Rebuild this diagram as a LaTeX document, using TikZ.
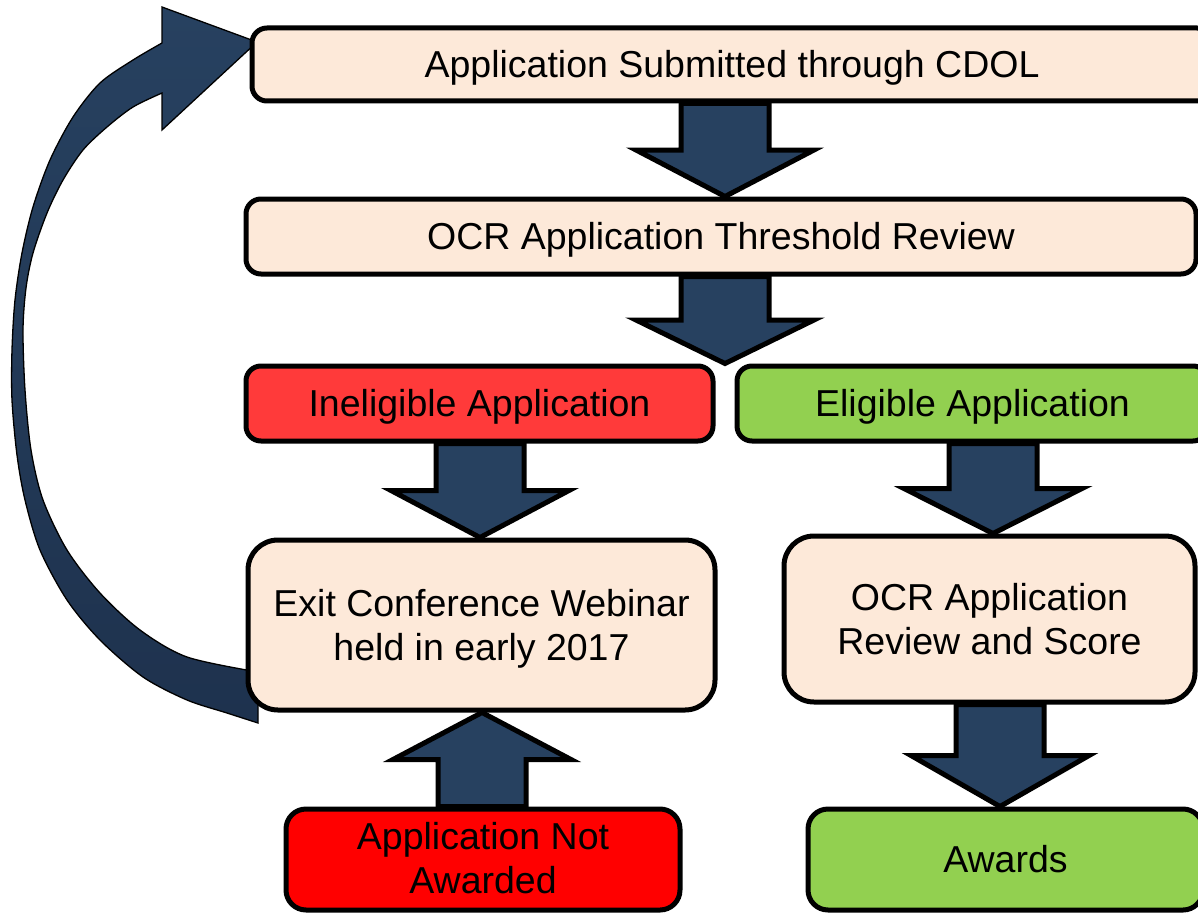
\documentclass[tikz,border=0pt]{standalone}
\usepackage{fontspec}
\setmainfont{Liberation Sans}
\usetikzlibrary{calc, backgrounds}

\definecolor{peach}{RGB}{253,233,217}
\definecolor{softred}{RGB}{255,58,58}
\definecolor{fullred}{RGB}{255,0,0}
\definecolor{leafgreen}{RGB}{146,208,80}
\definecolor{navy}{RGB}{39,65,96}
\definecolor{darknavy}{RGB}{30,50,78}

\tikzset{
  stage/.style={draw=black, line width=5pt, fill=peach, rounded corners=15pt,
                inner sep=0pt, align=center, text height=26pt, text depth=0pt,
                font=\fontsize{37.5}{44}\selectfont},
  tallstage/.style={stage, rounded corners=30pt, text height=70pt},
  blockarrow/.style={draw=black, line width=5pt, fill=navy, line join=miter},
}

% block arrow: #1 = x position, #2 = start anchor, #3 = end anchor
\newcommand{\blockarrow}[3]{%
  \draw[blockarrow] let \p1=(#2), \p2=(#3), \p3=($(#2)!0.5!(#3)$) in
    ({#1pt-44pt},\y1) -- ({#1pt-44pt},\y3) -- ({#1pt-89pt},\y3) -- (#1pt,\y2)
    -- ({#1pt+89pt},\y3) -- ({#1pt+44pt},\y3) -- ({#1pt+44pt},\y1) -- cycle;}

\begin{document}
\begin{tikzpicture}[x=1pt, y=-1pt]
  \useasboundingbox (0,0) rectangle (1198,915);
  \clip (0,0) rectangle (1198,915);

  % process boxes
  \node[stage, minimum width=960pt, minimum height=73pt] (sub) at (732,64.5)
    {Application Submitted through CDOL};
  \node[stage, minimum width=950pt, minimum height=75pt] (thr) at (721,236.5)
    {OCR Application Threshold Review};
  \node[stage, fill=softred, minimum width=467pt, minimum height=75pt] (inel) at (479.5,403.5)
    {Ineligible Application};
  \node[stage, fill=leafgreen, minimum width=471pt, minimum height=75pt] (elig) at (972.5,403.5)
    {Eligible Application};
  \node[tallstage, minimum width=467pt, minimum height=170pt] (exit) at (481.5,625)
    {Exit Conference Webinar\\held in early 2017};
  \node[tallstage, minimum width=411pt, minimum height=166pt] (rev) at (989.5,619)
    {OCR Application\\Review and Score};
  \node[stage, fill=fullred, rounded corners=20pt, text height=68pt, minimum width=394pt, minimum height=101pt] (nawd) at (483,859.5)
    {Application Not\\Awarded};
  \node[stage, fill=leafgreen, rounded corners=20pt, minimum width=395pt, minimum height=101pt] (awd) at (1005.5,859.5)
    {Awards};

  \begin{scope}[on background layer]
    % block arrows
    \blockarrow{725}{sub.south}{thr.north}
    \blockarrow{725}{thr.south}{inel.north}
    \blockarrow{480}{inel.south}{exit.north}
    \blockarrow{993}{elig.south}{rev.north}
    \blockarrow{482}{nawd.north}{exit.south}
    \blockarrow{1000}{rev.south}{awd.north}

    % return arrow back to the submission
    \draw[line width=1.3pt, top color=navy, bottom color=darknavy]
      plot[smooth, tension=0.5] coordinates {(162,43) (133,60) (100,83) (73,117) (50,160)
        (33,207) (22,253) (15,300) (12,350) (12,400) (17,455) (25,500) (40,550) (67,600)
        (100,640) (143,677) (187,700) (227,713) (258,723)}
      -- (258,672)
      -- plot[smooth, tension=0.5] coordinates {(258,672) (187,657) (140,630) (100,593)
        (67,550) (43,500) (31,450) (25,390) (23,330) (26,288) (33,253) (47,213) (63,180)
        (83,150) (107,127) (133,107) (162,93)}
      -- (162,130) -- (257,42) -- (162,7) -- cycle;
  \end{scope}
\end{tikzpicture}
\end{document}
